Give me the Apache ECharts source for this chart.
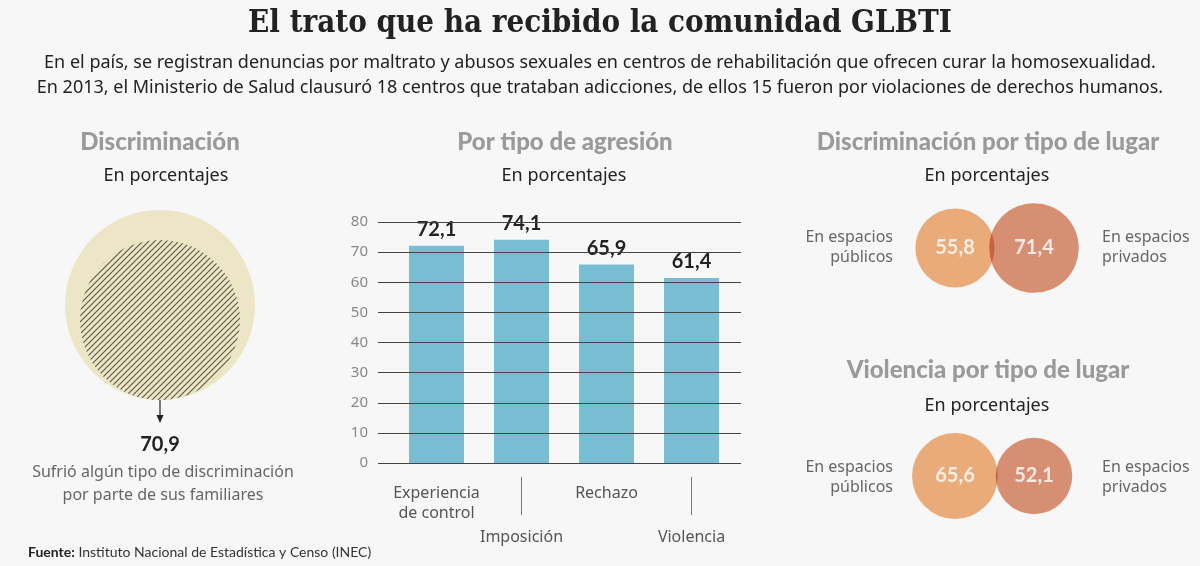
<!DOCTYPE html>
<html>
<head>
<meta charset="utf-8">
<script src="https://cdn.jsdelivr.net/npm/echarts@6/dist/echarts.min.js"></script>
<style>
  html, body { margin: 0; padding: 0; background: #f7f7f7; }
  #chart { width: 1200px; height: 566px; }
</style>
</head>
<body>
<div id="chart"></div>
<script>
const familiaValor = 70.9
const agresionCats = ['Experiencia\nde control', 'Imposición', 'Rechazo', 'Violencia']
const agresionVals = [72.1, 74.1, 65.9, 61.4]
const yTicks = [0, 10, 20, 30, 40, 50, 60, 70, 80]
const lugarCats = ['públicos', 'privados']
const discLugarVals = [55.8, 71.4]
const violLugarVals = [65.6, 52.1]

const lugarColors = ['#f1b17e', '#de9478']
const BODY = '"Noto Sans", sans-serif'
const HEAD = 'Lato, sans-serif'
const fmt = v => String(v).replace('.', ',')

// circulo de referencia = 100 %
const D0 = 190
const innerD = D0 * Math.sqrt(familiaValor / 100)
const circCenter = [160, 305]
// radio de los circulos de lugar ~ raiz del valor
const K = 5.3

// trama rayada para la parte del 70,9 %
function stripes() {
  let c = document.createElement('canvas')
  let s = 6
  c.width = s
  c.height = s
  let ctx = c.getContext('2d')
  ctx.fillStyle = '#ece6c6'
  ctx.fillRect(0, 0, s, s)
  ctx.strokeStyle = '#5e5c4c'
  ctx.lineWidth = 1.2
  ctx.beginPath()
  ctx.moveTo(0, s); ctx.lineTo(s, 0)
  ctx.moveTo(-1, 1); ctx.lineTo(1, -1)
  ctx.moveTo(s - 1, s + 1); ctx.lineTo(s + 1, s - 1)
  ctx.stroke()
  return c
}

function txt(x, y, text, st) {
  return {
    type: 'text', x: x, y: y, silent: true,
    style: Object.assign({
      text: text, fill: '#222', fontSize: 18, fontFamily: BODY,
      align: 'center', verticalAlign: 'middle'
    }, st || {})
  }
}
const head = { fill: '#9a9a9a', fontSize: 24, fontWeight: 900, fontFamily: HEAD }
const side = { fill: '#666', fontSize: 16 }

function hiddenAxis(i, type, extra) {
  return Object.assign({
    gridIndex: i, type: type, show: false
  }, extra || {})
}

function circle(value, radius, center, color) {
  return {
    type: 'pie', silent: true, center: center, radius: radius,
    label: { show: false }, labelLine: { show: false },
    itemStyle: { color: color, borderWidth: 0 },
    data: [{ value: value }]
  }
}

// gi = indice del grid (2 o 3); el xAxis va desplazado en 1 por el eje doble de barras
function lugarSeries(gi, vals) {
  let data = vals.map((v, i) => ({ value: [i, 0.5, v], itemStyle: { color: lugarColors[i] } }))
  return [
    {
      type: 'scatter', xAxisIndex: gi + 1, yAxisIndex: gi, silent: true, clip: false,
      blendMode: 'multiply',
      symbolSize: d => 2 * K * Math.sqrt(d[2]),
      itemStyle: { opacity: 1 },
      data: data
    },
    {
      type: 'scatter', xAxisIndex: gi + 1, yAxisIndex: gi, silent: true, clip: false, z: 5,
      symbolSize: d => 2 * K * Math.sqrt(d[2]),
      itemStyle: { color: 'rgba(0,0,0,0)' },
      label: {
        show: true, position: 'inside', color: '#fff', fontSize: 20, fontWeight: 'bold',
        fontFamily: HEAD, formatter: p => fmt(p.value[2])
      },
      data: vals.map((v, i) => [i, 0.5, v])
    }
  ]
}

let myChart = echarts.init(document.getElementById('chart'))

myChart.setOption({
  backgroundColor: '#f7f7f7',
  animation: false,
  grid: [
    { left: 394, top: 222, width: 340, height: 241 },
    { left: 378, top: 222, width: 363, height: 241 },
    { left: 955, top: 238, width: 79, height: 20 },
    { left: 955, top: 466, width: 79, height: 20 }
  ],
  xAxis: [
    {
      gridIndex: 0, type: 'category', data: agresionCats,
      axisLine: { show: false }, axisTick: { show: false },
      axisLabel: {
        interval: 0, margin: 20, verticalAlign: 'top',
        formatter: (v, i) => i % 2 === 0 ? v.split('\n').map(s => '{t|' + s + '}').join('\n') : '',
        rich: { t: { fontSize: 16, lineHeight: 20, color: '#555', fontFamily: BODY } }
      }
    },
    {
      gridIndex: 0, type: 'category', data: agresionCats, position: 'bottom',
      axisLine: { show: false }, axisTick: { show: false },
      axisLabel: {
        interval: 0, margin: 14, verticalAlign: 'top',
        formatter: (v, i) => i % 2 === 1 ? '{sep|}\n{u|' + v + '}' : '',
        rich: {
          sep: { width: 1, height: 38, backgroundColor: '#777' },
          u: { fontSize: 16, lineHeight: 44, color: '#555', fontFamily: BODY }
        }
      }
    },
    hiddenAxis(1, 'value', { min: 0, max: 1 }),
    hiddenAxis(2, 'category', { data: lugarCats, boundaryGap: false }),
    hiddenAxis(3, 'category', { data: lugarCats, boundaryGap: false })
  ],
  yAxis: [
    hiddenAxis(0, 'value', { min: 0, max: 80, interval: 10 }),
    {
      gridIndex: 1, type: 'value', min: yTicks[0], max: yTicks[yTicks.length - 1], interval: 10, z: 5,
      axisLine: { show: false }, axisTick: { show: false },
      axisLabel: { margin: 10, color: '#888', fontSize: 15, fontFamily: BODY },
      splitLine: { show: true, lineStyle: { color: '#444', width: 1 } }
    },
    hiddenAxis(2, 'value', { min: 0, max: 1 }),
    hiddenAxis(3, 'value', { min: 0, max: 1 })
  ],
  series: [
    // Discriminacion: circulo total (100 %) y parte rayada, apoyada abajo
    circle(100, D0 / 2, circCenter, '#ece6c6'),
    circle(familiaValor, innerD / 2, [circCenter[0], circCenter[1] + (D0 - innerD) / 2],
      { image: stripes(), repeat: 'repeat' }),
    // Por tipo de agresion
    {
      type: 'bar', xAxisIndex: 0, yAxisIndex: 0, silent: true,
      barWidth: 55,
      itemStyle: { color: '#79bdd3' },
      label: {
        show: true, position: 'top', distance: 6, color: '#222', fontSize: 20,
        fontWeight: 'bold', fontFamily: HEAD, formatter: p => fmt(p.value)
      },
      data: agresionVals
    },
    ...lugarSeries(2, discLugarVals),
    ...lugarSeries(3, violLugarVals)
  ],
  graphic: [
    txt(600, 24, 'El trato que ha recibido la comunidad GLBTI',
      { fontSize: 31, fontWeight: 'bold', fontFamily: '"DejaVu Serif Condensed", "DejaVu Serif", serif', fill: '#222' }),
    txt(600, 63, 'En el país, se registran denuncias por maltrato y abusos sexuales en centros de rehabilitación que ofrecen curar la homosexualidad.', { fontSize: 18 }),
    txt(600, 88, 'En 2013, el Ministerio de Salud clausuró 18 centros que trataban adicciones, de ellos 15 fueron por violaciones de derechos humanos.', { fontSize: 18 }),

    txt(160, 142, 'Discriminación', head),
    txt(166, 176, 'En porcentajes'),
    txt(565, 142, 'Por tipo de agresión', head),
    txt(564, 176, 'En porcentajes'),
    txt(988, 142, 'Discriminación por tipo de lugar', head),
    txt(987, 176, 'En porcentajes'),
    txt(988, 370, 'Violencia por tipo de lugar', head),
    txt(987, 406, 'En porcentajes'),

    // flecha
    { type: 'line', silent: true, shape: { x1: 160, y1: 400, x2: 160, y2: 417 }, style: { stroke: '#222', lineWidth: 1.2 } },
    { type: 'polygon', silent: true, shape: { points: [[156.5, 415], [163.5, 415], [160, 423]] }, style: { fill: '#222' } },
    txt(160, 445, fmt(familiaValor), { fontSize: 20, fontWeight: 'bold', fontFamily: HEAD }),
    txt(163, 472, 'Sufrió algún tipo de discriminación', side),
    txt(163, 495, 'por parte de sus familiares', side),

    txt(893, 237, 'En espacios', Object.assign({ align: 'right' }, side)),
    txt(893, 257, 'públicos', Object.assign({ align: 'right' }, side)),
    txt(1102, 237, 'En espacios', Object.assign({ align: 'left' }, side)),
    txt(1102, 257, 'privados', Object.assign({ align: 'left' }, side)),
    txt(893, 467, 'En espacios', Object.assign({ align: 'right' }, side)),
    txt(893, 487, 'públicos', Object.assign({ align: 'right' }, side)),
    txt(1102, 467, 'En espacios', Object.assign({ align: 'left' }, side)),
    txt(1102, 487, 'privados', Object.assign({ align: 'left' }, side)),

    txt(28, 552, '{b|Fuente:} Instituto Nacional de Estadística y Censo (INEC)', {
      align: 'left', fontSize: 14, fontFamily: 'Lato, sans-serif', fill: '#333',
      rich: { b: { fontWeight: 'bold', fontSize: 14, fontFamily: 'Lato, sans-serif', fill: '#222' } }
    })
  ]
})
</script>
</body>
</html>
